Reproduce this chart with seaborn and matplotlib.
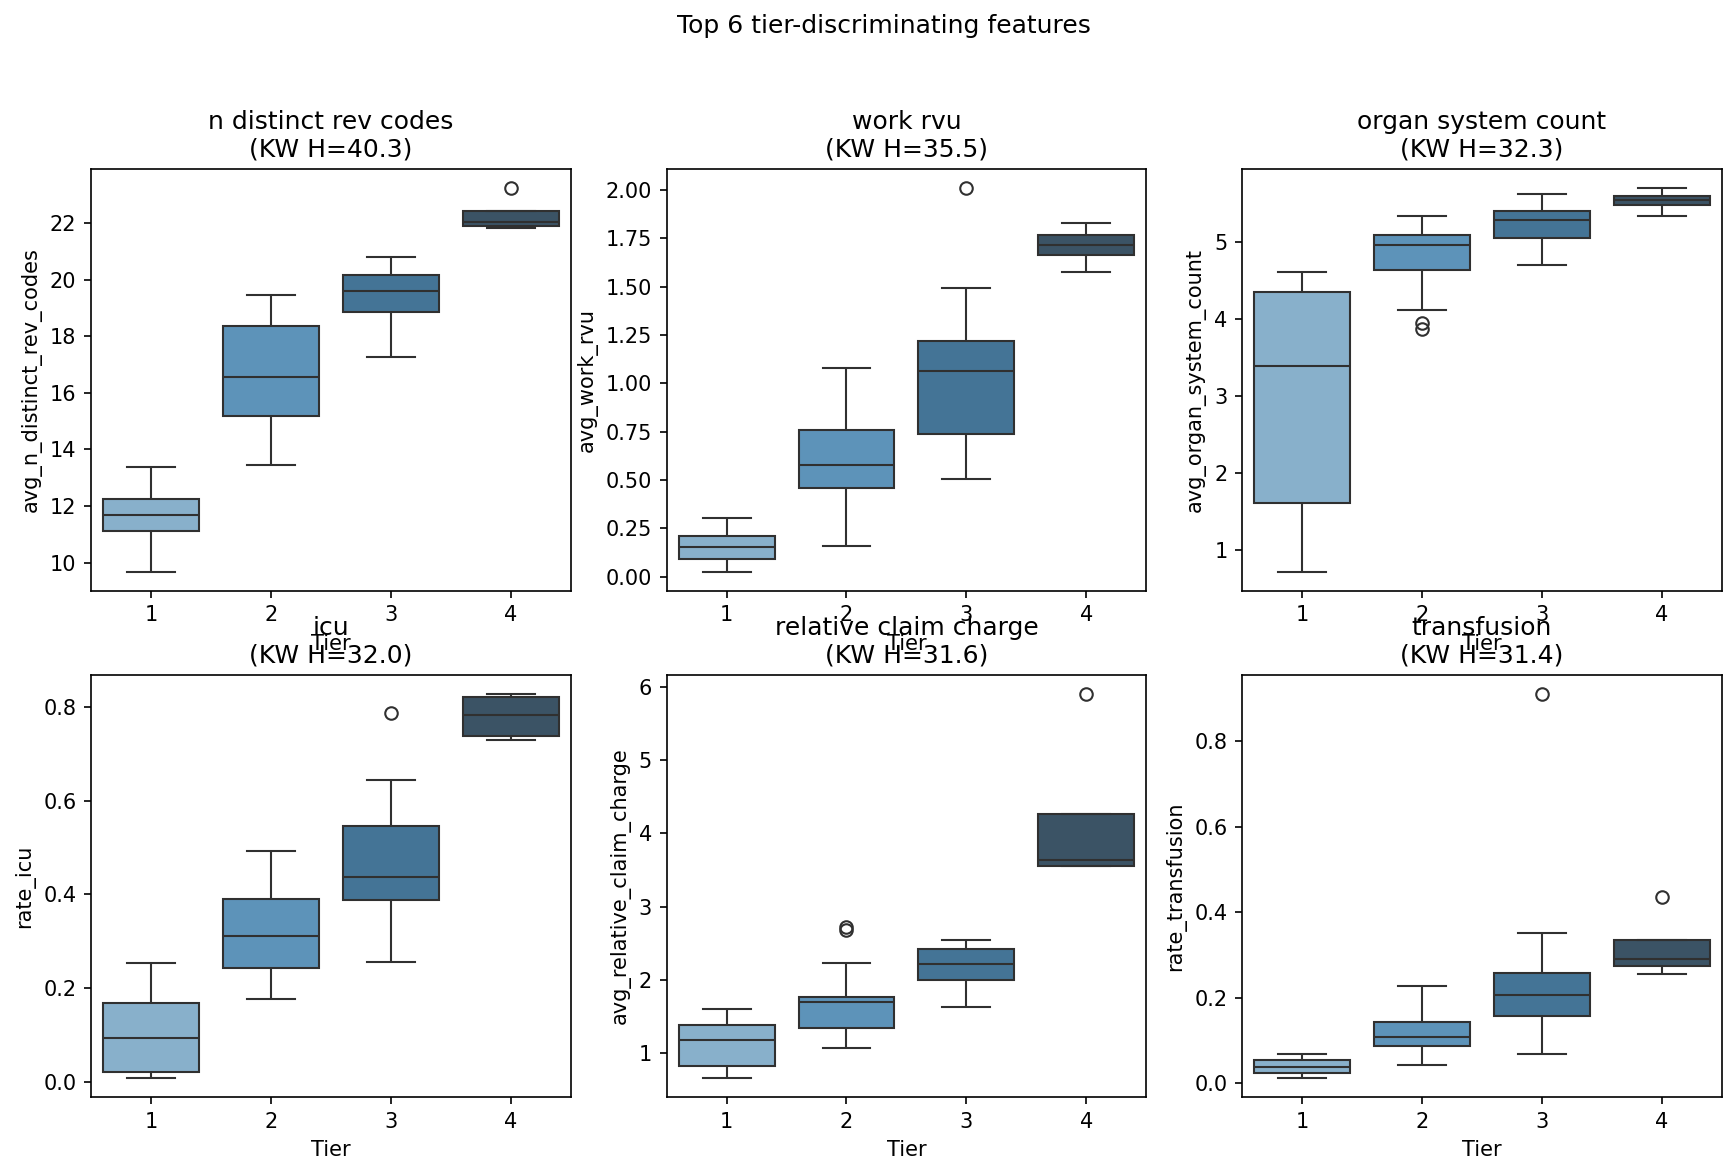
import numpy as np
import pandas as pd
import matplotlib
matplotlib.use("Agg")
import matplotlib.pyplot as plt
import seaborn as sns

tiers = ["1", "2", "3", "4"]

titles = ["n distinct rev codes", "work rvu", "organ system count",
          "icu", "relative claim charge", "transfusion"]
columns = ["avg_n_distinct_rev_codes", "avg_work_rvu", "avg_organ_system_count",
           "rate_icu", "avg_relative_claim_charge", "rate_transfusion"]
kw_h = [40.3, 35.5, 32.3, 32.0, 31.6, 31.4]

# per-tier observations (tier 1..4)
n_distinct_rev_codes = [
    [9.68, 11.12, 11.67, 12.26, 13.37],
    [13.45, 15.19, 16.56, 18.35, 19.45],
    [17.28, 18.84, 19.58, 20.15, 20.79],
    [21.83, 21.91, 22.05, 22.43, 23.23],
]
work_rvu = [
    [0.026, 0.089, 0.151, 0.208, 0.301],
    [0.160, 0.459, 0.578, 0.758, 1.081],
    [0.505, 0.60, 0.740, 0.90, 1.061, 1.15, 1.220, 1.491, 2.009],
    [1.575, 1.661, 1.717, 1.767, 1.830],
]
organ_system_count = [
    [0.725, 1.613, 3.398, 4.355, 4.616],
    [3.88, 3.95, 4.117, 4.648, 4.75, 4.85, 4.963, 5.0, 5.05, 5.096, 5.15, 5.25, 5.343],
    [4.707, 5.055, 5.293, 5.407, 5.627],
    [5.343, 5.490, 5.549, 5.604, 5.705],
]
icu = [
    [0.0086, 0.022, 0.094, 0.169, 0.253],
    [0.176, 0.243, 0.311, 0.390, 0.493],
    [0.255, 0.33, 0.388, 0.41, 0.438, 0.50, 0.546, 0.644, 0.788],
    [0.729, 0.739, 0.783, 0.821, 0.827],
]
relative_claim_charge = [
    [0.661, 0.826, 1.183, 1.385, 1.604],
    [1.073, 1.20, 1.30, 1.348, 1.50, 1.60, 1.691, 1.72, 1.75, 1.769, 2.223, 2.685, 2.717],
    [1.623, 1.994, 2.213, 2.415, 2.543],
    [3.55, 3.56, 3.642, 4.260, 5.899],
]
transfusion = [
    [0.0125, 0.023, 0.037, 0.055, 0.069],
    [0.043, 0.087, 0.108, 0.144, 0.226],
    [0.069, 0.12, 0.156, 0.18, 0.207, 0.23, 0.257, 0.350, 0.909],
    [0.255, 0.273, 0.290, 0.335, 0.435],
]

feature_values = [n_distinct_rev_codes, work_rvu, organ_system_count,
                  icu, relative_claim_charge, transfusion]

fig, axes = plt.subplots(2, 3, figsize=(1734 / 150, 1172 / 150), dpi=150)
fig.subplots_adjust(left=0.0525, right=0.993, bottom=0.064, top=0.8558,
                    wspace=0.2, hspace=0.2)

for ax, title, col, h, vals in zip(axes.flat, titles, columns, kw_h, feature_values):
    rows = []
    for t, obs in zip(tiers, vals):
        for v in obs:
            rows.append({"Tier": t, col: v})
    df = pd.DataFrame(rows)
    sns.boxplot(data=df, x="Tier", y=col, hue="Tier", order=tiers, hue_order=tiers,
                palette="Blues_d", legend=False, ax=ax)
    ax.set_title(f"{title}\n(KW H={h:.1f})")
    ax.set_xlabel("Tier")
    ax.set_ylabel(col)

fig.suptitle("Top 6 tier-discriminating features", x=0.5095, y=0.988)
fig.savefig("out.png", dpi=150)
